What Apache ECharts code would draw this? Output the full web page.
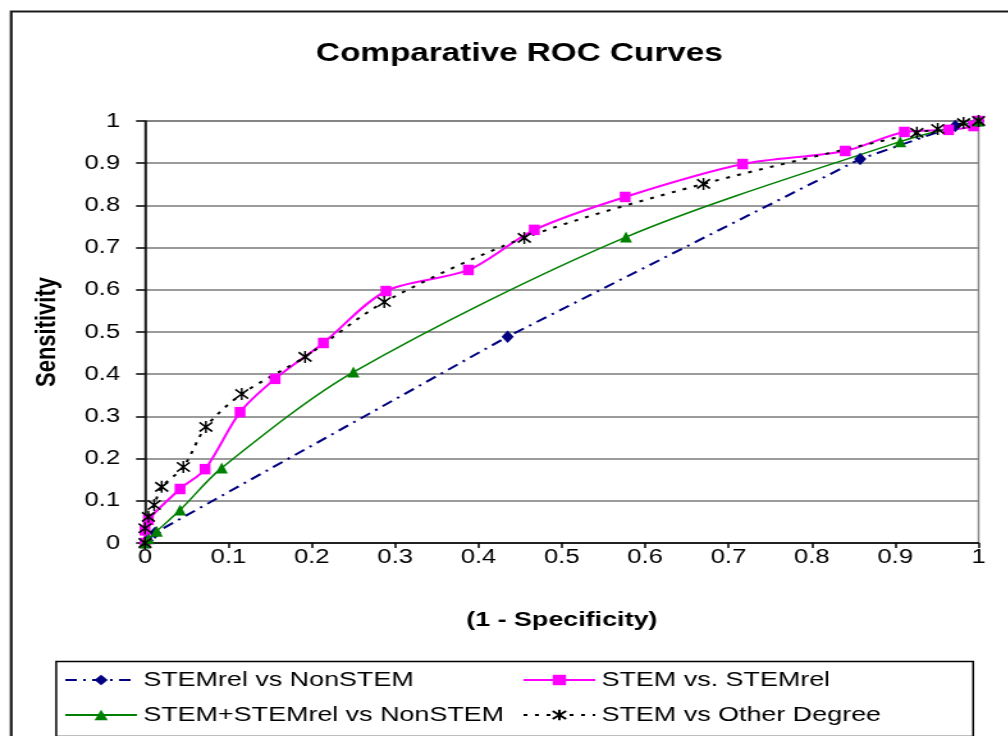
<!DOCTYPE html>
<html>
<head>
<meta charset="utf-8">
<script src="https://cdn.jsdelivr.net/npm/echarts@6/dist/echarts.min.js"></script>
<style>
  html, body { margin: 0; padding: 0; background: #fff; overflow: hidden; }
  /* the chart is laid out 787.5px wide and widened to fill the 1008px page */
  #chart { width: 787.5px; height: 736px; transform: scaleX(1.28); transform-origin: 0 0; }
</style>
</head>
<body>
<div id="chart"></div>
<script>
// Tick labels shared by both axes (0 .. 1 in steps of 0.1)
const tickLabels = ['0', '0.1', '0.2', '0.3', '0.4', '0.5', '0.6', '0.7', '0.8', '0.9', '1'];

// Series names
const seriesNames = ['STEMrel vs NonSTEM', 'STEM vs. STEMrel', 'STEM+STEMrel vs NonSTEM', 'STEM vs Other Degree'];

// STEMrel vs NonSTEM
const stemrelX = [0, 0.003, 0.012, 0.435, 0.858, 0.972, 1];
const stemrelY = [0, 0.006, 0.024, 0.489, 0.91, 0.988, 1];

// STEM vs. STEMrel
const stemX = [0, 0, 0.004, 0.042, 0.072, 0.114, 0.156, 0.214, 0.289, 0.388, 0.467, 0.576, 0.717, 0.84, 0.911, 0.964, 0.994, 1];
const stemY = [0, 0.03, 0.055, 0.128, 0.175, 0.31, 0.389, 0.474, 0.597, 0.647, 0.742, 0.82, 0.898, 0.929, 0.974, 0.979, 0.988, 1];

// STEM+STEMrel vs NonSTEM
const comboX = [0, 0.004, 0.014, 0.042, 0.092, 0.25, 0.577, 0.906, 1];
const comboY = [0, 0.01, 0.028, 0.078, 0.178, 0.405, 0.725, 0.951, 1];

// STEM vs Other Degree
const otherX = [0, 0, 0.004, 0.011, 0.02, 0.046, 0.073, 0.116, 0.192, 0.287, 0.455, 0.67, 0.926, 0.951, 0.982, 1];
const otherY = [0, 0.035, 0.062, 0.09, 0.133, 0.18, 0.275, 0.353, 0.441, 0.571, 0.723, 0.851, 0.972, 0.981, 0.995, 1];

const pairs = (xs, ys) => xs.map((x, i) => [x, ys[i]]);
const FONT = "'Liberation Sans', Arial, sans-serif";
const asterisk = 'path://M0,0L10,10M10,0L0,10M5,-1.5L5,11.5';

const chart = echarts.init(document.getElementById('chart'), null, { renderer: 'canvas' });

const axisCommon = {
  type: 'value',
  min: 0,
  max: 1,
  interval: 0.1,
  axisLine: { show: true, onZero: false, lineStyle: { color: '#000', width: 1.5 } },
  axisLabel: {
    color: '#000',
    fontFamily: FONT,
    fontSize: 20,
    formatter: v => tickLabels[Math.round(v * 10)]
  },
  nameTextStyle: { color: '#000', fontFamily: FONT, fontSize: 21, fontWeight: 'bold' }
};

const legendText = { color: '#000', fontFamily: FONT, fontSize: 21, lineHeight: 22 };

chart.setOption({
  animation: false,
  backgroundColor: '#fff',
  title: {
    text: 'Comparative ROC Curves',
    left: 400.8,
    textAlign: 'center',
    top: 36,
    textStyle: { color: '#000', fontFamily: FONT, fontSize: 26, fontWeight: 'bold' }
  },
  grid: {
    left: 113.3, right: 23.5, top: 121, bottom: 193,
    show: true, borderColor: '#888', borderWidth: 1.5,
    containLabel: false
  },
  xAxis: Object.assign({}, axisCommon, {
    name: '(1 - Specificity)',
    nameLocation: 'middle',
    nameGap: 67,
    splitLine: { show: false },
    axisTick: { show: true, length: 5, lineStyle: { color: '#000', width: 1.5 } },
    axisLabel: Object.assign({}, axisCommon.axisLabel, { margin: 4 })
  }),
  yAxis: Object.assign({}, axisCommon, {
    name: 'Sensitivity',
    nameLocation: 'middle',
    nameRotate: 90,
    nameGap: 65,
    nameTextStyle: { color: '#000', fontFamily: FONT, fontSize: 22, fontWeight: 'bold' },
    splitLine: { show: true, lineStyle: { color: '#7a7a7a', width: 1.5 } },
    axisTick: { show: true, length: 7, lineStyle: { color: '#000', width: 1.5 } },
    axisLabel: Object.assign({}, axisCommon.axisLabel, { margin: 19.5 })
  }),
  legend: [
    {
      data: [seriesNames[0], seriesNames[2]],
      orient: 'vertical',
      left: 50, top: 669, height: 80, padding: 0,
      itemWidth: 56, itemHeight: 13, itemGap: 13,
      textStyle: legendText
    },
    {
      data: [seriesNames[1], seriesNames[3]],
      orient: 'vertical',
      left: 408, top: 669, height: 80, padding: 0,
      itemWidth: 56, itemHeight: 13, itemGap: 13,
      textStyle: legendText
    }
  ],
  graphic: [
    { type: 'rect', left: 6.25, top: 9, shape: { width: 900, height: 800 },
      style: { fill: 'none', stroke: '#1a1a1a', lineWidth: 2.2 }, silent: true, z: -10 },
    { type: 'rect', left: 41.4, top: 659, shape: { width: 716.4, height: 75 },
      style: { fill: 'none', stroke: '#000', lineWidth: 1.5 }, silent: true, z: -10 }
  ],
  series: [
    {
      name: seriesNames[0], type: 'line', data: pairs(stemrelX, stemrelY),
      color: '#000080',
      symbol: 'diamond', symbolSize: [9.5, 12.5],
      lineStyle: { color: '#000080', width: 2, type: [9, 5, 2, 5] },
      itemStyle: { color: '#000080' }
    },
    {
      name: seriesNames[1], type: 'line', data: pairs(stemX, stemY),
      color: '#ff00ff', smooth: 0.3,
      symbol: 'rect', symbolSize: [8.5, 10.5],
      lineStyle: { color: '#ff00ff', width: 2 },
      itemStyle: { color: '#ff00ff' }
    },
    {
      name: seriesNames[2], type: 'line', data: pairs(comboX, comboY),
      color: '#008000', smooth: 0.3,
      symbol: 'triangle', symbolSize: [9.5, 11],
      lineStyle: { color: '#008000', width: 1.5 },
      itemStyle: { color: '#008000' }
    },
    {
      name: seriesNames[3], type: 'line', data: pairs(otherX, otherY),
      color: '#000', smooth: 0.3,
      symbol: asterisk, symbolSize: [10, 12],
      lineStyle: { color: '#000', width: 2, type: [3, 6] },
      itemStyle: { color: '#000', borderColor: '#000', borderWidth: 1.6 }
    }
  ]
});
</script>
</body>
</html>
